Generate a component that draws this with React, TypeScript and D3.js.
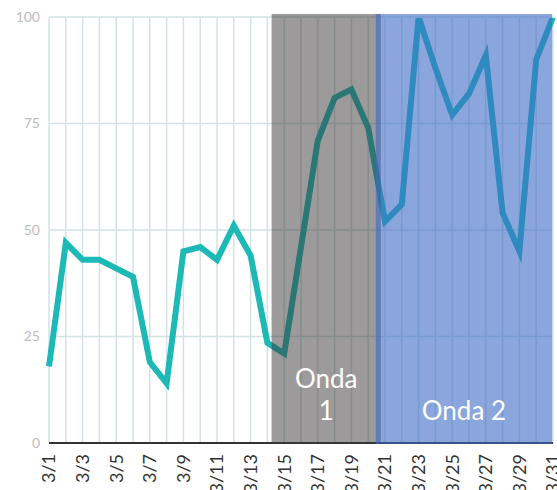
import React from "react";
import * as d3 from "d3";

const days = d3.range(1, 32);
const values = [18, 47, 43, 43, 41, 39, 19, 14, 45, 46, 43, 51, 44, 23.5, 21, 46, 71, 81, 83, 74, 52, 56, 100, 88, 77, 82, 91, 54, 45, 90, 100];
const yTicks = [0, 25, 50, 75, 100];
const waves = [
  { name: ["Onda", "1"], from: 14.25, to: 20.75, fill: "#3a3535", opacity: 0.5 },
  { name: ["Onda 2"], from: 20.45, to: 30.95, fill: "rgb(60,107,197)", opacity: 0.6 },
];

const width = 557;
const height = 490;
const margin = { top: 17, right: 4, bottom: 47, left: 49 };

export default function App() {
  const x = d3.scaleLinear().domain([1, 31]).range([margin.left, width - margin.right]);
  const y = d3.scaleLinear().domain([0, 100]).range([height - margin.bottom, margin.top]);
  const line = d3
    .line<number>()
    .x((_, i) => x(days[i]))
    .y((d) => y(d));
  const font = "Lato, 'Open Sans', sans-serif";
  const mid0 = (x(waves[0].from) + x(waves[0].to)) / 2;
  const mid1 = (x(waves[1].from) + x(waves[1].to)) / 2;

  return (
    <svg
      width={width}
      height={height}
      style={{ position: "absolute", left: 0, top: 0, background: "#fff" }}
    >
      <defs>
        <clipPath id="plot">
          <rect x={0} y={y(100) + 1} width={width} height={y(0) - y(100) + 10} />
        </clipPath>
      </defs>
      {/* grid */}
      {days.map((d) => (
        <line key={"v" + d} x1={x(d)} x2={x(d)} y1={y(100)} y2={y(0)} stroke="#d3e2e5" strokeWidth={1.5} />
      ))}
      {yTicks.map((t) => (
        <line key={"h" + t} x1={x(1)} x2={x(31)} y1={y(t)} y2={y(t)} stroke="#d3e2e5" strokeWidth={1.5} />
      ))}
      {yTicks.map((t) => (
        <text
          key={"yl" + t}
          x={x(1) - 9}
          y={y(t)}
          dy="0.35em"
          textAnchor="end"
          fontFamily={font}
          fontSize={14}
          fill="#bdbdbd"
        >
          {t}
        </text>
      ))}

      <path
        d={line(values) || ""}
        clipPath="url(#plot)"
        fill="none"
        stroke="#1cb9b6"
        strokeWidth={6}
        strokeLinejoin="miter"
        strokeMiterlimit={10}
      />

      <line x1={x(1)} x2={x(31)} y1={y(0)} y2={y(0)} stroke="#333" strokeWidth={2} />

      {waves.map((w) => (
        <rect
          key={w.name.join(" ")}
          x={x(w.from)}
          width={x(w.to) - x(w.from)}
          y={y(100) - 3}
          height={y(0) - y(100) + 4}
          fill={w.fill}
          fillOpacity={w.opacity}
        />
      ))}

      {/* wave labels */}
      <text x={mid0} y={388} textAnchor="middle" fontFamily={font} fontSize={26} fill="#fff">
        <tspan x={mid0}>{waves[0].name[0]}</tspan>
        <tspan x={mid0} dy={32}>{waves[0].name[1]}</tspan>
      </text>
      <text x={mid1} y={420} textAnchor="middle" fontFamily={font} fontSize={26} fill="#fff">
        {waves[1].name[0]}
      </text>

      {/* x labels */}
      {days
        .filter((d) => d % 2 === 1)
        .map((d) => (
          <text
            key={"xl" + d}
            transform={`translate(${x(d)},${y(0) + 11}) rotate(-90)`}
            dy="0.35em"
            textAnchor="end"
            fontFamily={font}
            fontSize={18}
            fill="#333"
          >
            {"3/" + d}
          </text>
        ))}
    </svg>
  );
}
